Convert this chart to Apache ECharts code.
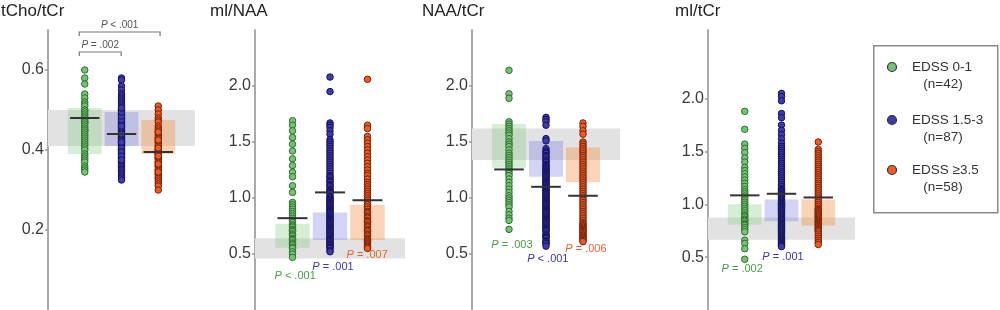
<!DOCTYPE html>
<html><head><meta charset="utf-8">
<script src="https://cdn.jsdelivr.net/npm/echarts@6/dist/echarts.min.js"></script>
<style>html,body{margin:0;padding:0;background:#fff}#c{width:1000px;height:310px}</style>
</head><body><div id="c"></div>
<script>
// ---------- data ----------
const groupNames = ['EDSS 0-1', 'EDSS 1.5-3', 'EDSS \u22653.5'];
const groupN = ['(n=42)', '(n=87)', '(n=58)'];
const panelTitles = ['tCho/tCr', 'ml/NAA', 'NAA/tCr', 'ml/tCr'];
const yMax = [0.7, 2.5, 2.5, 2.65];
const tickValues = [[0.2, 0.4, 0.6], [0.5, 1.0, 1.5, 2.0], [0.5, 1.0, 1.5, 2.0], [0.5, 1.0, 1.5, 2.0]];
const tickLabels = [['0.2', '0.4', '0.6'], ['0.5', '1.0', '1.5', '2.0'], ['0.5', '1.0', '1.5', '2.0'], ['0.5', '1.0', '1.5', '2.0']];
const refLow = [0.41, 0.46, 1.34, 0.665];
const refHigh = [0.50, 0.64, 1.62, 0.875];
const boxLow = [[0.39, 0.41, 0.39], [0.555, 0.625, 0.625], [1.27, 1.19, 1.14], [0.81, 0.84, 0.80]];
const boxHigh = [[0.505, 0.495, 0.475], [0.77, 0.87, 0.94], [1.66, 1.51, 1.45], [1.0, 1.045, 1.045]];
const groupMeans = [[0.48, 0.44, 0.395], [0.82, 1.05, 0.98], [1.255, 1.10, 1.02], [1.085, 1.10, 1.065]];

// tCho/tCr
const tcho_g1 = [0.60,0.58,0.565,0.54,0.53,0.52,0.515,0.51,0.50,0.50,0.495,0.49,0.485,0.48,0.48,0.475,0.47,0.47,0.465,0.46,0.455,0.45,0.45,0.445,0.44,0.435,0.43,0.425,0.42,0.415,0.41,0.405,0.40,0.39,0.385,0.38,0.375,0.37,0.36,0.355,0.35,0.345];
const tcho_g2 = [0.58,0.575,0.56,0.55,0.54,0.535,0.53,0.525,0.52,0.515,0.51,0.505,0.50,0.50,0.495,0.49,0.49,0.485,0.48,0.48,0.475,0.47,0.47,0.465,0.46,0.46,0.455,0.45,0.45,0.45,0.445,0.44,0.44,0.44,0.435,0.43,0.43,0.43,0.425,0.42,0.42,0.42,0.415,0.41,0.41,0.41,0.405,0.40,0.40,0.40,0.395,0.39,0.39,0.385,0.38,0.38,0.375,0.37,0.37,0.365,0.36,0.36,0.355,0.35,0.35,0.345,0.34,0.335,0.33,0.325,0.445,0.435,0.425,0.415,0.405,0.395,0.385,0.375,0.465,0.455,0.475,0.485,0.495,0.505,0.46,0.44,0.42];
const tcho_g3 = [0.51,0.50,0.49,0.48,0.475,0.47,0.46,0.455,0.45,0.445,0.44,0.435,0.43,0.43,0.425,0.42,0.42,0.415,0.41,0.41,0.405,0.40,0.40,0.40,0.395,0.39,0.39,0.39,0.385,0.38,0.38,0.38,0.375,0.37,0.37,0.365,0.36,0.36,0.355,0.35,0.35,0.345,0.34,0.34,0.335,0.33,0.33,0.325,0.32,0.315,0.31,0.30,0.445,0.425,0.405,0.385,0.365,0.345];
// ml/NAA
const mlnaa_g1 = [1.69,1.65,1.60,1.54,1.48,1.42,1.35,1.29,1.23,1.19,1.11,1.05,0.96,0.94,0.92,0.90,0.88,0.86,0.84,0.82,0.80,0.78,0.76,0.75,0.74,0.72,0.71,0.70,0.68,0.67,0.66,0.64,0.63,0.62,0.60,0.59,0.58,0.56,0.55,0.52,0.50,0.47];
const mlnaa_g2 = [2.08,1.95,1.67,1.65,1.63,1.60,1.57,1.52,1.50,1.48,1.46,1.44,1.42,1.40,1.38,1.36,1.34,1.32,1.30,1.28,1.26,1.24,1.22,1.20,1.19,1.18,1.16,1.15,1.14,1.12,1.11,1.10,1.08,1.07,1.06,1.05,1.04,1.02,1.01,1.00,0.99,0.98,0.97,0.96,0.95,0.94,0.93,0.92,0.91,0.90,0.89,0.88,0.87,0.86,0.85,0.84,0.83,0.82,0.81,0.80,0.79,0.78,0.77,0.76,0.75,0.74,0.73,0.72,0.71,0.70,0.69,0.68,0.67,0.66,0.65,0.64,0.63,0.62,0.61,0.60,0.59,0.58,0.57,0.56,0.55,0.53,0.52];
const mlnaa_g3 = [2.06,1.65,1.62,1.55,1.52,1.49,1.46,1.43,1.40,1.37,1.34,1.31,1.28,1.25,1.22,1.20,1.17,1.14,1.12,1.10,1.08,1.06,1.04,1.02,1.00,0.98,0.96,0.94,0.92,0.90,0.88,0.87,0.86,0.84,0.83,0.82,0.80,0.79,0.78,0.76,0.75,0.74,0.72,0.71,0.70,0.68,0.67,0.66,0.64,0.63,0.62,0.61,0.60,0.59,0.58,0.57,0.56,0.55];
// NAA/tCr
const naa_g1 = [2.14,1.93,1.89,1.68,1.66,1.64,1.62,1.60,1.58,1.56,1.53,1.50,1.48,1.46,1.43,1.40,1.38,1.36,1.34,1.32,1.30,1.28,1.26,1.24,1.22,1.20,1.17,1.14,1.11,1.08,1.05,1.02,1.00,0.98,0.96,0.94,0.92,0.88,0.85,0.82,0.80,0.72];
const naa_g2 = [1.72,1.70,1.68,1.65,1.53,1.51,1.44,1.42,1.41,1.40,1.38,1.37,1.36,1.34,1.33,1.32,1.30,1.29,1.28,1.27,1.26,1.25,1.24,1.23,1.22,1.21,1.20,1.19,1.18,1.17,1.16,1.15,1.14,1.13,1.12,1.11,1.10,1.09,1.08,1.07,1.06,1.05,1.04,1.03,1.02,1.01,1.00,0.99,0.98,0.97,0.96,0.95,0.94,0.93,0.92,0.91,0.90,0.89,0.88,0.87,0.86,0.85,0.84,0.83,0.82,0.81,0.80,0.79,0.78,0.77,0.76,0.75,0.74,0.73,0.72,0.71,0.70,0.68,0.67,0.66,0.65,0.64,0.62,0.61,0.60,0.59,0.57];
const naa_g3 = [1.67,1.64,1.60,1.57,1.50,1.48,1.46,1.44,1.42,1.40,1.38,1.36,1.34,1.32,1.30,1.28,1.26,1.24,1.22,1.20,1.18,1.16,1.14,1.12,1.10,1.08,1.06,1.04,1.02,1.00,0.98,0.96,0.94,0.92,0.90,0.88,0.86,0.84,0.82,0.80,0.78,0.77,0.76,0.75,0.74,0.73,0.72,0.71,0.70,0.69,0.68,0.67,0.66,0.65,0.64,0.63,0.62,0.61];
// ml/tCr
const mltcr_g1 = [1.88,1.71,1.57,1.53,1.49,1.44,1.40,1.35,1.32,1.29,1.26,1.23,1.20,1.17,1.14,1.12,1.10,1.08,1.06,1.04,1.02,1.00,0.98,0.96,0.94,0.92,0.90,0.89,0.88,0.86,0.85,0.84,0.82,0.81,0.80,0.78,0.76,0.74,0.66,0.63,0.58,0.48];
const mltcr_g2 = [2.05,2.02,1.98,1.86,1.82,1.75,1.70,1.66,1.62,1.58,1.55,1.53,1.51,1.49,1.47,1.45,1.43,1.41,1.39,1.37,1.35,1.33,1.31,1.29,1.27,1.25,1.23,1.21,1.19,1.17,1.15,1.14,1.13,1.12,1.11,1.10,1.09,1.08,1.07,1.06,1.05,1.04,1.03,1.02,1.01,1.00,1.00,0.99,0.98,0.97,0.96,0.95,0.94,0.93,0.92,0.91,0.90,0.89,0.88,0.87,0.86,0.85,0.84,0.83,0.82,0.81,0.80,0.79,0.78,0.77,0.76,0.75,0.74,0.73,0.72,0.71,0.70,0.69,0.68,0.67,0.66,0.65,0.64,0.63,0.62,0.61,0.60];
const mltcr_g3 = [1.59,1.52,1.50,1.48,1.46,1.44,1.42,1.40,1.38,1.36,1.34,1.32,1.30,1.28,1.26,1.24,1.22,1.20,1.18,1.16,1.14,1.12,1.10,1.08,1.06,1.04,1.02,1.00,0.98,0.96,0.95,0.94,0.93,0.92,0.91,0.90,0.89,0.88,0.87,0.86,0.85,0.84,0.83,0.82,0.81,0.80,0.79,0.78,0.77,0.76,0.75,0.74,0.72,0.70,0.68,0.66,0.64,0.62];

const panelValues = [[tcho_g1, tcho_g2, tcho_g3], [mlnaa_g1, mlnaa_g2, mlnaa_g3], [naa_g1, naa_g2, naa_g3], [mltcr_g1, mltcr_g2, mltcr_g3]];

// p-value annotations
const pPanel = [1, 1, 1, 2, 2, 2, 3, 3];
const pGroup = [0, 1, 2, 0, 1, 2, 0, 1];
const pX = [1.07, 2.08, 2.99, 1.08, 2.05, 3.08, 0.93, 2.04];
const pY = [0.305, 0.385, 0.49, 0.58, 0.457, 0.547, 0.39, 0.50];
const pText = ['< .001', '= .001', '= .007', '= .003', '< .001', '= .006', '= .002', '= .001'];
// brackets in panel 1
const bracketX1 = [0.85, 0.85];
const bracketX2 = [3.05, 1.99];
const bracketY = [0.695, 0.645];
const bracketText = ['< .001', '= .002'];

// ---------- styles ----------
const gridLeft = [48, 255, 472, 708];
const gridWidth = [147, 150, 148, 147];
const ptFill = ['#74c274', '#3c3caa', '#ee5a24'];
const ptBorder = ['#2f6f2f', '#13135e', '#7a2206'];
const boxFill = ['rgba(130,200,130,0.33)', 'rgba(120,120,225,0.33)', 'rgba(245,145,75,0.40)'];
const pColor = ['#44a044', '#3838b0', '#e8642e'];
const font = 'Liberation Sans, Arial, sans-serif';

const chart = echarts.init(document.getElementById('c'), null, {renderer: 'canvas'});
const grids = [], xAxes = [], yAxes = [], series = [];
for (let p = 0; p < 4; p++) {
  grids.push({left: gridLeft[p], top: 30, width: gridWidth[p], height: 280, outerBoundsMode: 'none'});
  xAxes.push({type: 'value', gridIndex: p, min: 0, max: 4, show: false});
  yAxes.push({
    type: 'value', gridIndex: p, min: 0, max: yMax[p],
    splitLine: {show: false},
    axisLine: {show: true, lineStyle: {color: '#aaaaaa', width: 2}},
    axisTick: {show: true, length: 3, lineStyle: {color: '#999', width: 1.5}, customValues: tickValues[p]},
    axisLabel: {
      color: '#3a3a3a', fontSize: 16, fontFamily: font, margin: 4,
      customValues: tickValues[p],
      formatter: v => { const i = tickValues[p].findIndex(t => Math.abs(t - v) < 1e-6); return i >= 0 ? tickLabels[p][i] : ''; }
    }
  });
  series.push({
    type: 'custom', xAxisIndex: p, yAxisIndex: p, z: 1, silent: true,
    data: [[0, refLow[p], 4, refHigh[p]]],
    renderItem: (params, api) => {
      const a = api.coord([api.value(0), api.value(3)]);
      const b = api.coord([api.value(2), api.value(1)]);
      return {type: 'rect', shape: {x: a[0], y: a[1], width: b[0] - a[0], height: b[1] - a[1]}, style: {fill: '#e2e2e2'}};
    }
  });
  series.push({
    type: 'custom', xAxisIndex: p, yAxisIndex: p, z: 2, silent: true,
    data: [0, 1, 2].map(g => [g + 1, boxLow[p][g], boxHigh[p][g], g]),
    renderItem: (params, api) => {
      const x = api.value(0), g = api.value(3);
      const a = api.coord([x - 0.46, api.value(2)]);
      const b = api.coord([x + 0.46, api.value(1)]);
      return {type: 'rect', shape: {x: a[0], y: a[1], width: b[0] - a[0], height: b[1] - a[1]}, style: {fill: boxFill[g]}};
    }
  });
  for (let g = 0; g < 3; g++) {
    series.push({
      type: 'scatter', name: groupNames[g], xAxisIndex: p, yAxisIndex: p, z: 3,
      symbolSize: 6.5,
      itemStyle: {color: ptFill[g], borderColor: ptBorder[g], borderWidth: 1, opacity: 1},
      data: panelValues[p][g].map(v => [g + 1, v])
    });
  }
  series.push({
    type: 'custom', xAxisIndex: p, yAxisIndex: p, z: 4, silent: true,
    data: [0, 1, 2].map(g => [g + 1, groupMeans[p][g]]),
    renderItem: (params, api) => {
      const a = api.coord([api.value(0) - 0.4, api.value(1)]);
      const b = api.coord([api.value(0) + 0.4, api.value(1)]);
      return {type: 'line', shape: {x1: a[0], y1: a[1], x2: b[0], y2: b[1]}, style: {stroke: '#333', lineWidth: 2}};
    }
  });
  const pd = [];
  for (let i = 0; i < pPanel.length; i++) if (pPanel[i] === p) pd.push({
    value: [pX[i], pY[i], pText[i], pGroup[i]]
  });
  if (pd.length) series.push({
    type: 'custom', xAxisIndex: p, yAxisIndex: p, z: 5, silent: true,
    dimensions: ['x', 'y', {name: 't', type: 'ordinal'}, 'g'],
    data: pd,
    renderItem: (params, api) => {
      const i = params.dataIndex;
      const item = pd[i].value;
      const c = api.coord([item[0], item[1]]);
      const col = pColor[item[3]];
      return {type: 'text', x: c[0], y: c[1], style: {text: '{i|P} ' + item[2], fill: col, fontSize: 11, fontFamily: font, align: 'center', verticalAlign: 'middle',
        rich: {i: {fontStyle: 'italic', fill: col, fontSize: 11, fontFamily: font}}}};
    }
  });
}
series.push({
  type: 'custom', xAxisIndex: 0, yAxisIndex: 0, z: 5, silent: true,
  data: bracketX1.map((x, i) => [x, bracketX2[i], bracketY[i], i]),
  renderItem: (params, api) => {
    const i = api.value(3);
    const a = api.coord([api.value(0), api.value(2)]);
    const b = api.coord([api.value(1), api.value(2)]);
    return {type: 'group', children: [
      {type: 'polyline', shape: {points: [[a[0], a[1] + 4], a, b, [b[0], b[1] + 4]]}, style: {stroke: '#777', lineWidth: 1.2, fill: null}},
      {type: 'text', x: (a[0] + b[0]) / 2, y: a[1] - 7, style: {text: '{i|P} ' + bracketText[i], fill: '#555', fontSize: 10, fontFamily: font, align: 'center', verticalAlign: 'middle',
        rich: {i: {fontStyle: 'italic', fill: '#555', fontSize: 10, fontFamily: font}}}}
    ]};
  }
});

const titleX = [1, 210, 422, 675];
const graphic = titleX.map((x, i) => ({type: 'text', left: x, top: 3, style: {text: panelTitles[i], fill: '#222', fontSize: 17, fontFamily: font}}));
graphic.push({type: 'rect', left: 873, top: 45, shape: {width: 124, height: 167}, style: {fill: '#fff', stroke: '#8a8a8a', lineWidth: 1.5}});
const legY = [67, 120, 170];
for (let g = 0; g < 3; g++) {
  graphic.push({type: 'circle', shape: {cx: 892, cy: legY[g], r: 4.5}, style: {fill: ptFill[g], stroke: '#333', lineWidth: 1.2}});
  graphic.push({type: 'text', x: 912, y: legY[g], style: {text: groupNames[g], fill: '#333', fontSize: 13.5, fontFamily: font, verticalAlign: 'middle'}});
  graphic.push({type: 'text', x: 943, y: legY[g] + 17, style: {text: groupN[g], fill: '#333', fontSize: 13.5, fontFamily: font, align: 'center', verticalAlign: 'middle'}});
}

chart.setOption({animation: false, grid: grids, xAxis: xAxes, yAxis: yAxes, series: series, graphic: graphic});
</script></body></html>
